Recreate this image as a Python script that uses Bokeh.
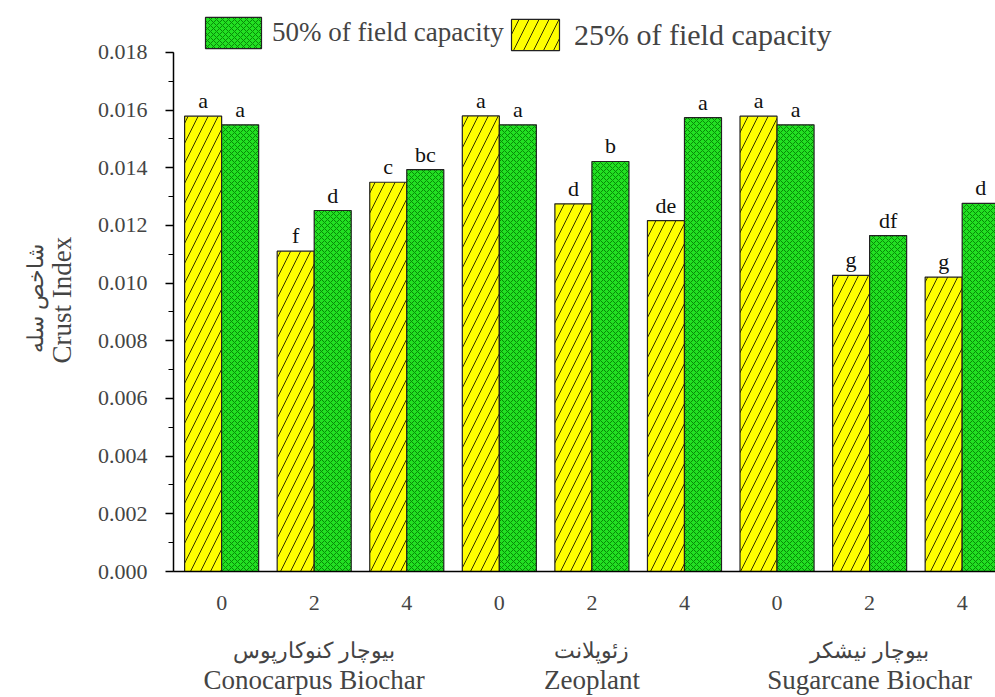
from bokeh.plotting import figure
from bokeh.models import (ColumnDataSource, Range1d, LinearAxis, FixedTicker,
                          Legend, LegendItem, NumeralTickFormatter)
from bokeh.embed import file_html
from bokeh.resources import INLINE
from bokeh.core.properties import value

# ---- data ----
positions = [0, 1, 2, 3, 4, 5, 6, 7, 8]
dose_labels = ["0", "2", "4", "0", "2", "4", "0", "2", "4"]
group_positions = [1, 4, 7]
group_fa = ["بیوچار کنوکارپوس", "زئوپلانت", "بیوچار نیشکر"]
group_en = ["Conocarpus Biochar", "Zeoplant", "Sugarcane Biochar"]
fc25 = [0.01579, 0.01111, 0.01350, 0.01580, 0.01275, 0.01217, 0.01579, 0.01027, 0.01021]
fc50 = [0.01549, 0.01252, 0.01394, 0.01549, 0.01422, 0.01574, 0.01549, 0.01165, 0.01277]
let25 = ["a", "f", "c", "a", "d", "de", "a", "g", "g"]
let50 = ["a", "d", "bc", "a", "b", "a", "a", "df", "d"]
y_ticks = [0.000, 0.002, 0.004, 0.006, 0.008, 0.010, 0.012, 0.014, 0.016, 0.018]
y_title_fa = "شاخص سله"
y_title_en = "Crust Index"

FONT = "Liberation Serif"
YELLOW = "#FFFF00"
GREEN = "#22E022"
PAD = "\u00a0" * 3

src25 = ColumnDataSource(dict(x=[p - 0.2 for p in positions], top=fc25, lab=let25))
src50 = ColumnDataSource(dict(x=[p + 0.2 for p in positions], top=fc50, lab=let50))

p = figure(width=995, height=697, output_backend="svg", toolbar_location=None,
           x_range=Range1d(-0.52, 8.36), y_range=Range1d(0, 0.019526),
           min_border_left=173, min_border_right=0, min_border_top=8,
           min_border_bottom=126, outline_line_color=None)
p.xaxis.visible = False
p.yaxis.visible = False
p.grid.visible = False

r25 = p.vbar(x="x", top="top", width=0.4, source=src25, fill_color=YELLOW,
             line_color="#222222", line_width=1.2,
             hatch_pattern="/", hatch_color="#333300", hatch_scale=20, hatch_weight=1)
r50 = p.vbar(x="x", top="top", width=0.4, source=src50, fill_color=GREEN,
             line_color="#222222", line_width=1.2,
             hatch_pattern="x", hatch_color="#078A07", hatch_scale=6, hatch_weight=1)

for src in (src25, src50):
    p.text(x="x", y="top", text="lab", source=src, y_offset=-3,
           text_align="center", text_baseline="bottom",
           text_font=value(FONT), text_font_size="22px", text_color="#111111")

# y axis with English title
yax = LinearAxis(ticker=FixedTicker(ticks=y_ticks,
                                    minor_ticks=[i * 0.001 for i in range(19)]),
                 formatter=NumeralTickFormatter(format="0.000"),
                 bounds=(0, 0.018),
                 axis_label=y_title_en + PAD,
                 axis_label_text_font=FONT, axis_label_text_font_size="27px",
                 axis_label_text_font_style="normal", axis_label_standoff=18,
                 major_label_text_font=FONT, major_label_text_font_size="22px",
                 major_label_standoff=18,
                 axis_line_width=1.5, major_tick_out=8, major_tick_in=0,
                 minor_tick_out=5, minor_tick_in=0, major_tick_line_width=1.5,
                 minor_tick_line_width=1.2)
p.add_layout(yax, "left")

# outer empty axis carrying the Persian title
yax_fa = LinearAxis(ticker=FixedTicker(ticks=[]), axis_line_color=None,
                    major_tick_line_color=None, minor_tick_line_color=None,
                    major_label_text_font_size="0px",
                    axis_label=y_title_fa + PAD, axis_label_standoff=-4,
                    axis_label_text_font=FONT, axis_label_text_font_size="22px",
                    axis_label_text_font_style="normal")
p.add_layout(yax_fa, "left")

# x axis with dose labels
xax = LinearAxis(ticker=FixedTicker(ticks=positions),
                 major_label_overrides={pp: l for pp, l in zip(positions, dose_labels)},
                 major_label_text_font=FONT, major_label_text_font_size="22px",
                 major_label_standoff=24, axis_line_width=1.5,
                 major_tick_out=0, major_tick_in=0, minor_tick_out=0, minor_tick_in=0)
p.add_layout(xax, "below")

# group label axes (Persian, then English)
gax_fa = LinearAxis(ticker=FixedTicker(ticks=group_positions),
                    major_label_overrides={pp: l for pp, l in zip(group_positions, group_fa)},
                    major_label_text_font=FONT, major_label_text_font_size="22px",
                    major_label_standoff=19, axis_line_color=None,
                    major_tick_line_color=None, minor_tick_line_color=None)
p.add_layout(gax_fa, "below")
gax_en = LinearAxis(ticker=FixedTicker(ticks=group_positions),
                    major_label_overrides={pp: l for pp, l in zip(group_positions, group_en)},
                    major_label_text_font=FONT, major_label_text_font_size="27px",
                    major_label_standoff=-7, axis_line_color=None,
                    major_tick_line_color=None, minor_tick_line_color=None)
p.add_layout(gax_en, "below")

common = dict(orientation="horizontal", label_text_font=FONT,
              glyph_height=39, padding=0, margin=0, border_line_color=None,
              background_fill_alpha=0)
leg1 = Legend(items=[LegendItem(label="50% of field capacity", renderers=[r50])],
              location=(25, 519), glyph_width=70, label_standoff=4,
              label_text_font_size="27px", **common)
leg2 = Legend(items=[LegendItem(label="25% of field capacity", renderers=[r25])],
              location=(332, 517), glyph_width=60, label_standoff=9,
              label_text_font_size="30px", **common)
p.add_layout(leg1, "center")
p.add_layout(leg2, "center")

open("out.html", "w").write(file_html(p, INLINE))
